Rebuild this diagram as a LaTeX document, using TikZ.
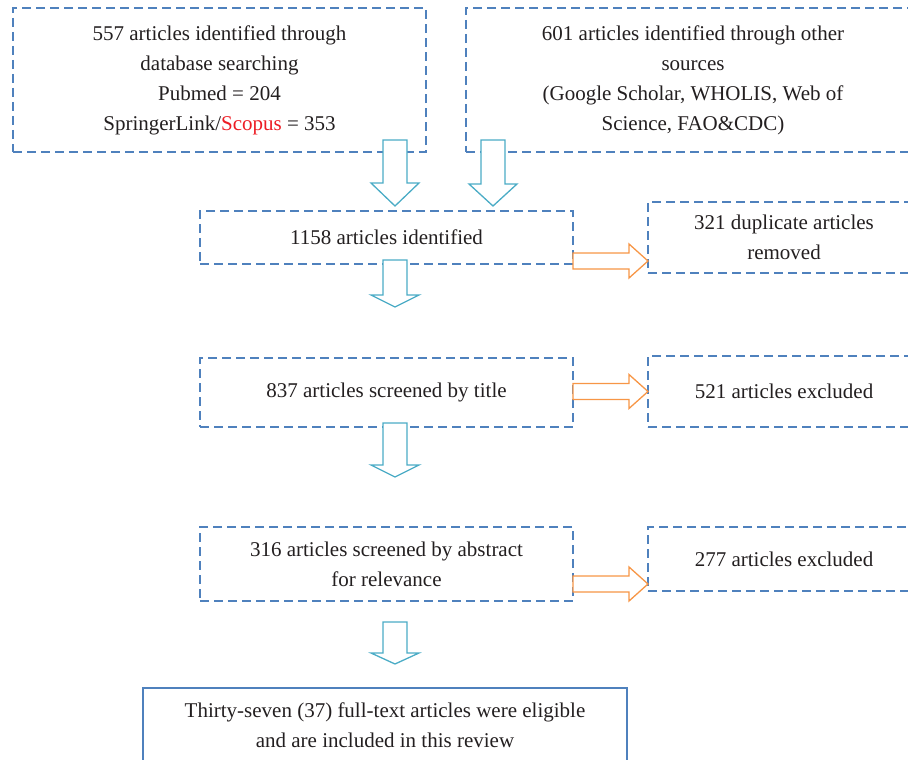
\documentclass[tikz,border=0pt]{standalone}
\usepackage{fontspec}
\setmainfont{Liberation Serif}
\usepackage{xcolor}
\usepackage{tikz}
\usetikzlibrary{calc}
\definecolor{boxblue}{RGB}{79,129,189}
\definecolor{arrowteal}{RGB}{75,172,198}
\definecolor{arroworange}{RGB}{247,150,70}
\definecolor{textgray}{RGB}{35,31,32}
\definecolor{scopusred}{RGB}{237,28,36}
\tikzset{flow box/.style={
        draw=boxblue, line width=1.3pt, dash pattern=on 9pt off 5pt,
        minimum width=#1, align=center, text=textgray,
        outer sep=0pt, inner sep=0pt, % borders meet the arrows exactly
    },
    final box/.style={
        draw=boxblue, line width=1.1pt, minimum width=484pt, minimum height=74pt,
        align=center, text=textgray, outer sep=0pt,
    },
    down block/.style={
        draw=arrowteal, fill=white, line width=1.3pt,
    },
    right block/.style={
        draw=arroworange, fill=white, line width=1.3pt,
    },
}
%% hollow block arrows: start point, tip point (and head length for the down ones)
\newcommand{\flowdown}[3]{%
    \draw[down block] let \p1=(#1), \p2=(#2) in
        (\x2-12,\y1) -- (\x2+12,\y1) -- (\x2+12,\y2+#3) -- (\x2+24,\y2+#3)
        -- (\x2,\y2) -- (\x2-24,\y2+#3) -- (\x2-12,\y2+#3) -- cycle;}
\newcommand{\flowright}[2]{%
    \draw[right block] let \p1=(#1), \p2=(#2) in
        (\x1,\y2+8) -- (\x2-19,\y2+8) -- (\x2-19,\y2+17) -- (\x2,\y2)
        -- (\x2-19,\y2-17) -- (\x2-19,\y2-8) -- (\x1,\y2-8) -- cycle;}

\begin{document}
\begin{tikzpicture}[x=1pt, y=-1pt, font=\fontsize{21}{30}\selectfont]
    \useasboundingbox (0,0) rectangle (908,760);

    %% the two sources
        \node [flow box=413pt, minimum height=144pt] at (219.5,80) (A)
            {557 articles identified through\\ database searching\\ Pubmed = 204\\
             SpringerLink/\textcolor{scopusred}{Scopus} = 353};
        \node [flow box=454pt, minimum height=144pt] at (693,80) (B)
            {601 articles identified through other\\ sources\\
             (Google Scholar, WHOLIS, Web of\\ Science, FAO\&CDC)};

    %% the screening steps
        \node [flow box=373pt, minimum height=53pt] at (386.5,237.5) (C) {1158 articles identified};
        \node [flow box=373pt, minimum height=69pt] at (386.5,392.5) (E) {837 articles screened by title};
        \node [flow box=373pt, minimum height=74pt] at (386.5,564) (G)
            {316 articles screened by abstract\\ for relevance};

    %% what was dropped
        \node [flow box=272pt, minimum height=71pt] at (784,237.5) (D) {321 duplicate articles\\ removed};
        \node [flow box=272pt, minimum height=71pt] at (784,391.5) (F) {521 articles excluded};
        \node [flow box=272pt, minimum height=64pt] at (784,559) (H) {277 articles excluded};

    %% the result
        \node [final box] at (385,725) (I)
            {Thirty-seven (37) full-text articles were eligible\\ and are included in this review};

    %% the arrows
        \flowdown{[xshift=-31pt,yshift=12pt]A.south east}{[xshift=8.5pt,yshift=5pt]C.north}{23}
        \flowdown{[xshift=27pt,yshift=12pt]B.south west}{[xshift=-80pt,yshift=5pt]C.north east}{22}
        \flowdown{[xshift=8.5pt,yshift=4pt]C.south}{[xshift=8.5pt,yshift=51pt]E.north}{12}
        \flowdown{[xshift=8.5pt,yshift=4pt]E.south}{[xshift=8.5pt,yshift=50pt]G.north}{12}
        \flowdown{[xshift=8.5pt,yshift=-21pt]G.south}{[xshift=10pt,yshift=24pt]I.north}{11}

        \flowright{C.east}{[yshift=-23.5pt]D.west}
        \flowright{E.east}{F.west}
        \flowright{G.east}{[yshift=-25pt]H.west}

\end{tikzpicture}
\end{document}
